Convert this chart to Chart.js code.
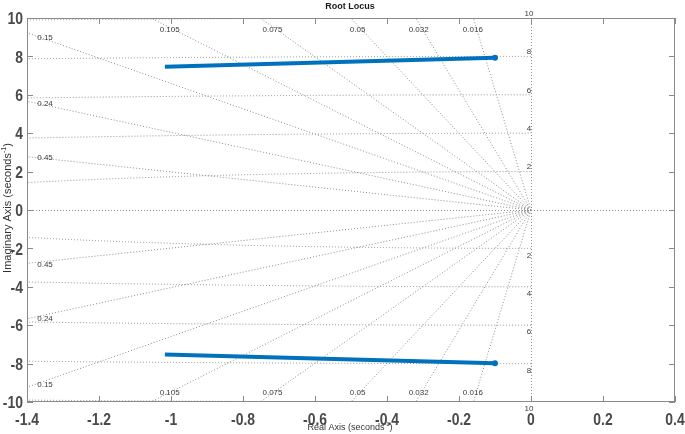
<!DOCTYPE html>
<html><head><meta charset="utf-8">
<script src="https://cdn.jsdelivr.net/npm/chart.js@4/dist/chart.umd.min.js"></script>
<style>html,body{margin:0;padding:0;background:#fff}#wrap{width:685px;height:434px}</style>
</head><body><div id="wrap"><canvas id="c" width="685" height="434"></canvas></div>
<script>
// ---- data ----
const xTicks = [-1.4, -1.2, -1, -0.8, -0.6, -0.4, -0.2, 0, 0.2, 0.4];
const yTicks = [-10, -8, -6, -4, -2, 0, 2, 4, 6, 8, 10];
const upperBranchX = [-1.017, -0.1];
const upperBranchY = [7.46, 7.93];
const lowerBranchX = [-1.017, -0.1];
const lowerBranchY = [-7.52, -7.98];
const dampingRatios = [0.016, 0.032, 0.05, 0.075, 0.105, 0.15, 0.24, 0.45];
const naturalFreqs = [2, 4, 6, 8, 10];
const titleText = 'Root Locus';
const xTitle = 'Real Axis (seconds';
const yTitle = 'Imaginary Axis (seconds';

const FONT = "'Liberation Sans', Arial, sans-serif";
const GRID = '#8c8c8c';
const LBL = '#3a3a3a';

function pts(xs, ys){ return xs.map((x,i)=>({x:x, y:ys[i]})); }
const fmt = v => String(parseFloat(Number(v).toFixed(2)));

function drawSupText(ctx, main, sup, tail, cx, cy, size){
  ctx.font = size + 'px ' + FONT;
  const w1 = ctx.measureText(main).width;
  ctx.font = (size*0.65) + 'px ' + FONT;
  const w2 = ctx.measureText(sup).width;
  ctx.font = size + 'px ' + FONT;
  const w3 = ctx.measureText(tail).width;
  let x = cx - (w1+w2+w3)/2;
  ctx.textAlign = 'left'; ctx.textBaseline = 'middle';
  ctx.fillText(main, x, cy); x += w1;
  ctx.font = (size*0.65) + 'px ' + FONT;
  ctx.fillText(sup, x, cy - size*0.4); x += w2;
  ctx.font = size + 'px ' + FONT;
  ctx.fillText(tail, x, cy);
}

// condensed tick label
function tickText(ctx, txt, x, y, align){
  const sx = 0.82;
  ctx.save();
  ctx.translate(x, y); ctx.scale(sx, 1);
  ctx.textAlign = align; ctx.textBaseline = 'middle';
  ctx.fillText(txt, 0, 0);
  ctx.restore();
}

function box(chart){
  const xs = chart.scales.x, ys = chart.scales.y;
  return { l: xs.getPixelForValue(xs.min), r: xs.getPixelForValue(xs.max),
           t: ys.getPixelForValue(ys.max), b: ys.getPixelForValue(ys.min) };
}

const sgridPlugin = {
  id: 'sgrid',
  beforeDatasetsDraw(chart){
    const ctx = chart.ctx, a = box(chart);
    const xs = chart.scales.x, ys = chart.scales.y;
    const ox = xs.getPixelForValue(0), oy = ys.getPixelForValue(0);
    const kx = xs.getPixelForValue(1) - ox;
    const ky = oy - ys.getPixelForValue(1);
    ctx.save();
    ctx.beginPath(); ctx.rect(a.l, a.t, a.r-a.l, a.b-a.t); ctx.clip();
    ctx.strokeStyle = GRID; ctx.lineWidth = 1; ctx.setLineDash([1,2]);
    ctx.beginPath(); ctx.moveTo(a.l, oy+0.5); ctx.lineTo(a.r, oy+0.5); ctx.stroke();
    ctx.beginPath(); ctx.moveTo(ox+0.5, a.t); ctx.lineTo(ox+0.5, a.b); ctx.stroke();
    dampingRatios.forEach(z=>{
      const s = Math.sqrt(1-z*z)/z;
      const X = 20;
      [1,-1].forEach(sg=>{
        ctx.beginPath();
        ctx.moveTo(ox, oy);
        ctx.lineTo(xs.getPixelForValue(-X), ys.getPixelForValue(sg*X*s));
        ctx.stroke();
      });
    });
    naturalFreqs.forEach(w=>{
      ctx.beginPath();
      ctx.ellipse(ox, oy, w*kx, w*ky, 0, Math.PI/2, Math.PI*1.5);
      ctx.stroke();
    });
    ctx.restore();
  },
  afterDatasetsDraw(chart){
    const ctx = chart.ctx, a = box(chart);
    const xs = chart.scales.x, ys = chart.scales.y;
    const ox = xs.getPixelForValue(0);
    ctx.save();
    ctx.fillStyle = LBL;
    ctx.font = '8px ' + FONT;
    ctx.textAlign = 'center'; ctx.textBaseline = 'middle';
    const xmin = xs.min, ymax = ys.max;
    dampingRatios.forEach(z=>{
      const s = Math.sqrt(1-z*z)/z;
      const lab = String(z);
      if (s*(-xmin) > ymax) {
        const yl = 9.4;
        const px = xs.getPixelForValue(-yl/s) - 4;
        ctx.fillText(lab, px, ys.getPixelForValue(yl));
        ctx.fillText(lab, px, ys.getPixelForValue(-yl)+2);
      } else {
        const px = a.l + 18;
        const xv = xs.getValueForPixel(px);
        ctx.fillText(lab, px, ys.getPixelForValue(-xv*s) - 1);
        ctx.fillText(lab, px, ys.getPixelForValue(xv*s) + 3.5);
      }
    });
    naturalFreqs.forEach(w=>{
      ctx.fillText(String(w), ox - 2, ys.getPixelForValue(w) - 4.5);
      ctx.fillText(String(w), ox - 2, ys.getPixelForValue(-w) + 7);
    });
    // frame + inward ticks
    ctx.strokeStyle = '#8a8a8a'; ctx.lineWidth = 1; ctx.setLineDash([]);
    ctx.strokeRect(Math.round(a.l)+0.5, Math.round(a.t)+0.5, Math.round(a.r-a.l)-1, Math.round(a.b-a.t)-1);
    ctx.beginPath();
    const TL = 6;
    xTicks.forEach(v=>{
      const p = Math.round(xs.getPixelForValue(v))+0.5;
      ctx.moveTo(p, a.b); ctx.lineTo(p, a.b-TL);
      ctx.moveTo(p, a.t); ctx.lineTo(p, a.t+TL);
    });
    yTicks.forEach(v=>{
      const p = Math.round(ys.getPixelForValue(v))+0.5;
      ctx.moveTo(a.l, p); ctx.lineTo(a.l+TL, p);
      ctx.moveTo(a.r, p); ctx.lineTo(a.r-TL, p);
    });
    ctx.stroke();
    // tick labels
    ctx.fillStyle = '#4a4a4a';
    ctx.font = 'bold 17px ' + FONT;
    xTicks.forEach(v=> tickText(ctx, fmt(v), xs.getPixelForValue(v), a.b + 18, 'center'));
    yTicks.forEach(v=> tickText(ctx, fmt(v), a.l - 4, ys.getPixelForValue(v) + 1.5, 'right'));
    // titles
    ctx.fillStyle = '#1a1a1a';
    ctx.font = 'bold 9px ' + FONT;
    ctx.textAlign = 'center'; ctx.textBaseline = 'middle';
    ctx.fillText(titleText, 350, 7);
    ctx.fillStyle = '#333';
    drawSupText(ctx, xTitle, '-1', ')', 350, 428, 9);
    ctx.save();
    ctx.translate(8, 208); ctx.rotate(-Math.PI/2);
    drawSupText(ctx, yTitle, '-1', ')', 0, 0, 11);
    ctx.restore();
    ctx.restore();
  }
};

new Chart(document.getElementById('c'), {
  type: 'scatter',
  data: {
    datasets: [
      { data: pts(upperBranchX, upperBranchY), showLine: true, borderColor: '#0072BD', backgroundColor: '#0072BD',
        borderWidth: 4, pointRadius: [0, 3], pointBorderWidth: 0, pointBackgroundColor: '#0072BD' },
      { data: pts(lowerBranchX, lowerBranchY), showLine: true, borderColor: '#0072BD', backgroundColor: '#0072BD',
        borderWidth: 4, pointRadius: [0, 3], pointBorderWidth: 0, pointBackgroundColor: '#0072BD' }
    ]
  },
  options: {
    responsive: false, animation: false, devicePixelRatio: 1,
    layout: { padding: { top: 18, right: 10, left: 0, bottom: 0 } },
    plugins: { legend: { display: false }, tooltip: { enabled: false }, title: { display: false } },
    scales: {
      x: {
        type: 'linear', min: xTicks[0], max: xTicks[xTicks.length-1],
        grid: { display: false, drawTicks: false }, border: { display: false },
        afterBuildTicks: s => { s.ticks = xTicks.map(v=>({value:v})); },
        afterFit: s => { s.height = 32; s.paddingLeft = 0; s.paddingRight = 0; },
        ticks: { display: false }
      },
      y: {
        type: 'linear', min: yTicks[0], max: yTicks[yTicks.length-1],
        grid: { display: false, drawTicks: false }, border: { display: false },
        afterBuildTicks: s => { s.ticks = yTicks.map(v=>({value:v})); },
        afterFit: s => { s.width = 27; s.paddingTop = 0; s.paddingBottom = 0; },
        ticks: { display: false }
      }
    }
  },
  plugins: [sgridPlugin]
});
</script></body></html>
